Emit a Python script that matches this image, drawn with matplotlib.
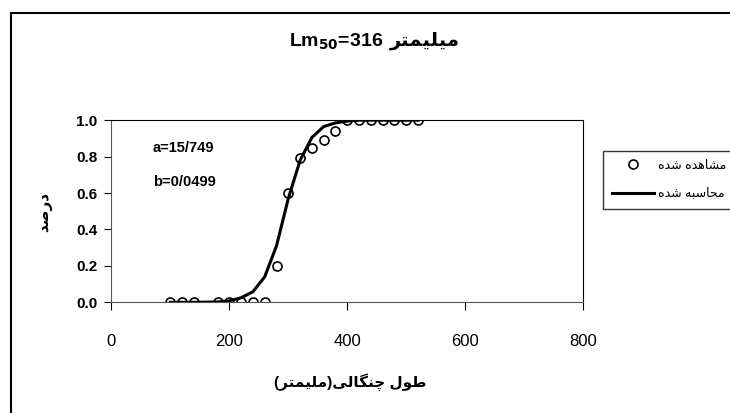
# Logistic length-at-maturity chart (Lm50) - observed vs computed proportions
import numpy as np
import matplotlib.pyplot as plt
from matplotlib.patches import Rectangle

plt.rcParams['font.family'] = ['Liberation Sans', 'DejaVu Sans']

# Data
length_mm = [100, 120, 140, 180, 200, 220, 240, 260, 280, 300, 320,
             340, 360, 380, 400, 420, 440, 460, 480, 500, 520]
observed = [0.0, 0.0, 0.0, 0.0, 0.0, 0.0, 0.0, 0.0, 0.20, 0.60, 0.79,
            0.85, 0.89, 0.94, 1.0, 1.0, 1.0, 1.0, 1.0, 1.0, 1.0]
computed = [0.0, 0.0, 0.0, 0.002, 0.008, 0.025, 0.058, 0.14, 0.31, 0.57, 0.78,
            0.905, 0.965, 0.985, 0.995, 1.0, 1.0, 1.0, 1.0, 1.0, 1.0]
x_ticks = [0, 200, 400, 600, 800]
y_ticks = [0.0, 0.2, 0.4, 0.6, 0.8, 1.0]

title_fa = 'ميليمتر'
xlabel_fa = 'طول چنگالی(ملیمتر)'
ylabel_fa = 'درصد'
obs_label = 'مشاهده شده'
calc_label = 'محاسبه شده'

# matplotlib has no arabic shaping, so pick presentation forms by hand
# (isolated, final, initial, medial)
FORMS = {
    'ا': ('\uFE8D', '\uFE8E', None, None),
    'ب': ('\uFE8F', '\uFE90', '\uFE91', '\uFE92'),
    'ت': ('\uFE95', '\uFE96', '\uFE97', '\uFE98'),
    'ح': ('\uFEA1', '\uFEA2', '\uFEA3', '\uFEA4'),
    'د': ('\uFEA9', '\uFEAA', None, None),
    'ر': ('\uFEAD', '\uFEAE', None, None),
    'س': ('\uFEB1', '\uFEB2', '\uFEB3', '\uFEB4'),
    'ش': ('\uFEB5', '\uFEB6', '\uFEB7', '\uFEB8'),
    'ص': ('\uFEB9', '\uFEBA', '\uFEBB', '\uFEBC'),
    'ط': ('\uFEC1', '\uFEC2', '\uFEC3', '\uFEC4'),
    'ل': ('\uFEDD', '\uFEDE', '\uFEDF', '\uFEE0'),
    'م': ('\uFEE1', '\uFEE2', '\uFEE3', '\uFEE4'),
    'ن': ('\uFEE5', '\uFEE6', '\uFEE7', '\uFEE8'),
    'ه': ('\uFEE9', '\uFEEA', '\uFEEB', '\uFEEC'),
    'و': ('\uFEED', '\uFEEE', None, None),
    'ي': ('\uFEF1', '\uFEF2', '\uFEF3', '\uFEF4'),
    'ی': ('\uFBFC', '\uFBFD', '\uFBFE', '\uFBFF'),
    'چ': ('\uFB7A', '\uFB7B', '\uFB7C', '\uFB7D'),
    'گ': ('\uFB92', '\uFB93', '\uFB94', '\uFB95'),
}


def rtl(text):
    out = []
    for i, ch in enumerate(text):
        if ch not in FORMS:
            out.append(ch)
            continue
        prev = text[i - 1] if i > 0 else ''
        nxt = text[i + 1] if i + 1 < len(text) else ''
        j_prev = prev in FORMS and FORMS[prev][2] is not None
        j_next = FORMS[ch][2] is not None and nxt in FORMS
        if j_prev and j_next:
            out.append(FORMS[ch][3])
        elif j_prev:
            out.append(FORMS[ch][1])
        elif j_next:
            out.append(FORMS[ch][2])
        else:
            out.append(FORMS[ch][0])
    swap = {'(': ')', ')': '('}
    return ''.join(swap.get(c, c) for c in reversed(out))


fig = plt.figure(figsize=(7.3, 4.13), dpi=100)
ax = fig.add_axes([0.1525, 0.268, 0.6465, 0.441])

ax.plot(length_mm, observed, linestyle='none', marker='o', markersize=6.5,
        markerfacecolor='white', markeredgecolor='black', markeredgewidth=1.2,
        label=rtl(obs_label), zorder=2)
ax.plot(length_mm, computed, color='black', linewidth=2.2,
        label=rtl(calc_label), zorder=3)

ax.set_xlim(0, 800)
ax.set_ylim(0, 1.0)
ax.set_xticks(x_ticks)
ax.set_yticks(y_ticks)
ax.set_yticklabels(['%.1f' % v for v in y_ticks], fontweight='bold')
ax.tick_params(axis='x', direction='out', length=6, width=0.8, pad=17, labelsize=12)
ax.tick_params(axis='y', direction='out', length=5, width=0.8, pad=5, labelsize=11)
for s in ax.spines.values():
    s.set_linewidth(0.8)
ax.spines['left'].set_color('#555555')
ax.spines['bottom'].set_color('#555555')

ax.text(70, 0.845, 'a=15/749', fontsize=10.5, fontweight='bold', va='center')
ax.text(70, 0.66, 'b=0/0499', fontsize=10.5, fontweight='bold', va='center')

# title: latin part and persian part drawn side by side
fig.text(383 / 730, 0.898, 'Lm$_{\\mathbf{50}}$=316', ha='right', va='center',
         fontsize=14, fontweight='bold')
fig.text(390 / 730, 0.9, rtl(title_fa), ha='left', va='center',
         fontsize=14, fontweight='bold')
fig.text(0.48, 0.075, rtl(xlabel_fa), ha='center', va='center',
         fontsize=11, fontweight='bold')
fig.text(0.062, 0.487, rtl(ylabel_fa), ha='center', va='center',
         fontsize=11, fontweight='bold', rotation=90)

leg = ax.legend(loc='upper left', bbox_to_anchor=(603 / 730, 1 - 151 / 413),
                bbox_transform=fig.transFigure, fontsize=9, frameon=True,
                fancybox=False, edgecolor='black', handlelength=3.4,
                borderaxespad=0, borderpad=0.7, labelspacing=1.3, handletextpad=0.3)
leg.get_frame().set_linewidth(1.0)

# outer chart border (runs off the right and bottom edges)
fig.patches.append(Rectangle((11 / 730, -0.1), 1.0, 1 - 13 / 413 + 0.1,
                             transform=fig.transFigure, fill=False,
                             edgecolor='black', linewidth=1.5))

plt.savefig('out.png', dpi=100)
